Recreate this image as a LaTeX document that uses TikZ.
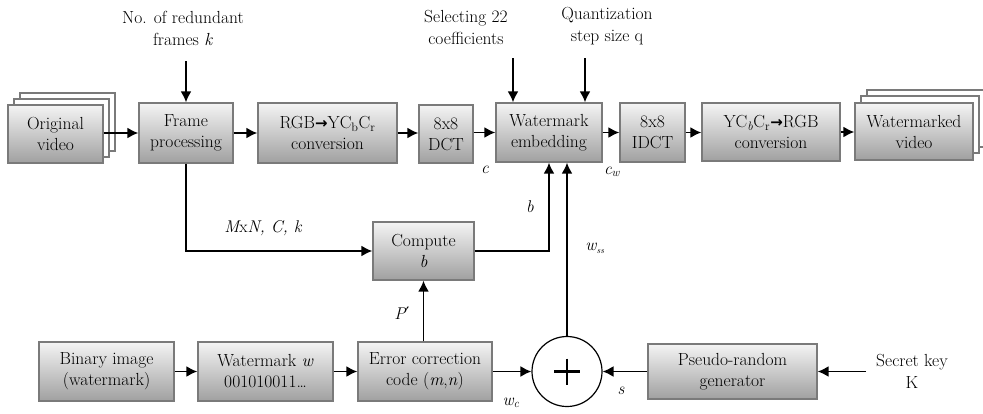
\documentclass[tikz,border=0pt]{standalone}
\usepackage{fontspec}
\newfontfamily\djv{DejaVu Sans}
\usetikzlibrary{arrows.meta,calc}
\definecolor{boxline}{HTML}{7A7A7A}
\definecolor{boxtop}{HTML}{F4F4F4}
\definecolor{boxbot}{HTML}{A0A0A0}
\tikzset{
  blk/.style={draw=boxline,line width=1.4pt,top color=boxtop,bottom color=boxbot,
    align=center,inner sep=0pt,minimum width=#1,
    font=\fontsize{17.5}{21}\selectfont},
  blk/.default=100pt,
  backblk/.style={draw=boxline,line width=1.4pt,fill=white,inner sep=0pt},
  arr/.style={line width=1.6pt,-{Latex[length=11pt,width=11pt]}},
  lbl/.style={align=center,inner sep=0pt,font=\fontsize{17.5}{22}\selectfont},
  mlbl/.style={inner sep=0pt,font=\fontsize{17}{19}\selectfont\itshape},
}
\newcommand{\bigarr}{{\djv\bfseries\fontsize{15}{15}\selectfont →}}
\begin{document}
\begin{tikzpicture}[x=1pt,y=-1pt]
\useasboundingbox (0,0) rectangle (983,413);
% stacked back boxes
\draw[backblk] (20,93) rectangle (115,151);
\draw[backblk] (14,99) rectangle (109,157);
\draw[backblk] (867,90) rectangle (985,147);
\draw[backblk] (861,96) rectangle (979,153);
% main row
\node[blk=95pt,minimum height=58pt] (orig) at (55.5,134) {Original\\video};
\node[blk=94pt,minimum height=60pt] (frame) at (186,133) {Frame\\processing};
\node[blk=139pt,minimum height=60pt] (rgb) at (327.5,133) {RGB\bigarr YC\textsubscript{b}C\textsubscript{r}\\conversion};
\node[blk=54pt,minimum height=58pt] (dct) at (446,134) {8x8\\DCT};
\node[blk=106pt,minimum height=59pt] (we) at (549,132.5) {Watermark\\embedding};
\node[blk=65pt,minimum height=59pt] (idct) at (652.5,132.5) {8x8\\IDCT};
\node[blk=138pt,minimum height=58pt] (ycc) at (771,132) {YC\textsubscript{\itshape b}C\textsubscript{r}\bigarr RGB\\conversion};
\node[blk=118pt,minimum height=57pt] (wmv) at (914,131.5) {Watermarked\\video};
% middle
\node[blk=101pt,minimum height=58pt] (comp) at (423.5,251) {Compute\\\emph{b}};
% bottom row
\node[blk=135pt,minimum height=59pt] (bin) at (106.5,371.5) {Binary image\\(watermark)};
\node[blk=135pt,minimum height=59pt] (wmw) at (265.5,371.5) {Watermark \emph{w}\\001010011\ldots};
\node[blk=134pt,minimum height=59pt] (ecc) at (425,371.5) {Error correction\\code (\emph{m},\emph{n})};
\node[draw,line width=1.2pt,circle,minimum size=70pt,inner sep=0pt] (plus) at (567,371.5) {};
\draw[line width=2.6pt] ($(plus.center)+(-13,0)$) -- ($(plus.center)+(13,0)$);
\draw[line width=2.6pt] ($(plus.center)+(0,-13)$) -- ($(plus.center)+(0,13)$);
\node[blk=169pt,minimum height=55pt] (prg) at (732.5,371.5) {Pseudo-random\\generator};
\node[lbl,inner sep=10pt] (key) at (912,371.5) {Secret key\\K};
% top inputs
\node[lbl] (kl) at (183,28) {No. of redundant\\frames \emph{k}};
\node[lbl] (sl) at (466,27) {Selecting 22\\coefficients};
\node[lbl] (ql) at (607,26) {Quantization\\step size q};
\coordinate (kin) at (186,61);
\coordinate (sin) at (513,58);
\coordinate (qin) at (585,58);
% connectors main row
\draw[arr] (orig.east |- frame.west) -- (frame.west);
\draw[arr] (frame.east) -- (rgb.west);
\draw[arr] (rgb.east) -- (rgb.east -| dct.west);
\draw[arr] (dct.east |- we.west) -- (we.west);
\draw[arr] (we.east) -- (idct.west);
\draw[arr] (idct.east) -- (idct.east -| ycc.west);
\draw[arr] (ycc.east) -- (ycc.east -| wmv.west);
\draw[arr] (kin) -- (kin |- frame.north);
\draw[arr] (sin) -- (sin |- we.north);
\draw[arr] (qin) -- (qin |- we.north);
% middle connectors
\draw[arr] (frame.south) |- (comp.west);
\draw[arr] (comp.east) -| (we.south);
\draw[arr] (plus.north) -- (plus.north |- we.south);
\draw[arr] (ecc.north -| comp.south) -- (comp.south);
% bottom connectors
\draw[arr] (bin.east) -- (wmw.west);
\draw[arr] (wmw.east) -- (ecc.west);
\draw[arr] (ecc.east) -- (plus.west);
\draw[arr] (prg.west) -- (plus.east);
\draw[arr] (key.west) -- (prg.east);
% labels
\node[mlbl] (lc) at (485,170) {c};
\node[mlbl] (lcw) at (612,172) {c\textsubscript{w}};
\node[mlbl] (lb) at (530,207) {b};
\node[mlbl] (lmn) at (263,228) {M{\upshape x}N, C, k};
\node[mlbl] (lp) at (402,313) {P{\djv\upshape ′}};
\node[mlbl] (lws) at (595,248) {w\textsubscript{\fontsize{9}{9}\selectfont ss}};
\node[mlbl] (lwc) at (511,403) {w\textsubscript{c}};
\node[mlbl] (ls) at (621,391) {s};
\end{tikzpicture}
\end{document}
